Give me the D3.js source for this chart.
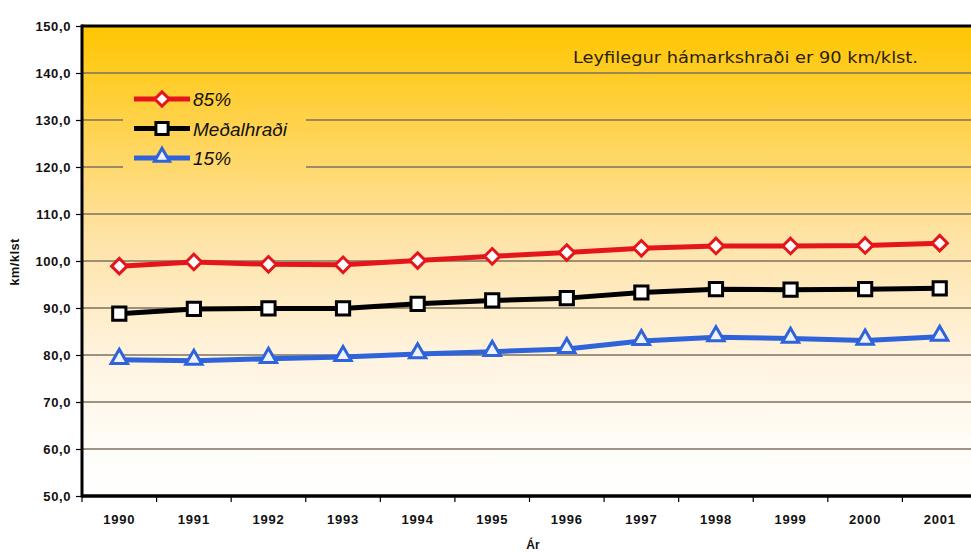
<!DOCTYPE html>
<html><head><meta charset="utf-8">
<script src="https://cdn.jsdelivr.net/npm/d3@7"></script>
<style>body{margin:0;background:#fff}svg{display:block}</style>
</head><body>
<svg id="c" width="971" height="553"></svg>
<script>
const years = ["1990","1991","1992","1993","1994","1995","1996","1997","1998","1999","2000","2001"];
const p85 = [98.9, 99.8, 99.3, 99.2, 100.1, 101.0, 101.8, 102.7, 103.2, 103.2, 103.3, 103.8];
const mean = [88.8, 89.8, 89.9, 89.9, 90.9, 91.6, 92.1, 93.3, 94.0, 93.9, 94.0, 94.2];
const p15 = [79.0, 78.8, 79.2, 79.6, 80.2, 80.7, 81.3, 83.0, 83.8, 83.5, 83.1, 83.9];
const yTicks = [50,60,70,80,90,100,110,120,130,140,150];
const seriesNames = ["85%", "Meðalhraði", "15%"];
const note = "Leyfilegur hámarkshraði er 90 km/klst.";
const yTitle = "km/klst";
const xTitle = "Ár";

const svg = d3.select("#c");
const L = 82, T = 26, R = 977, B = 496;
const x = d3.scaleBand().domain(years).range([L, R]);
const y = d3.scaleLinear().domain([50,150]).range([B, T]);
const FONT = "Liberation Sans, Arial, sans-serif";

const defs = svg.append("defs");
function grad(id){
  const g = defs.append("linearGradient").attr("id",id).attr("gradientUnits","userSpaceOnUse")
    .attr("x1",0).attr("y1",T).attr("x2",0).attr("y2",B);
  [[0,"#FFC600"],[0.22,"#FFD350"],[0.45,"#FEE3A6"],[0.7,"#FFF3DE"],[0.88,"#FFFCF6"],[1,"#FFFFFF"]]
    .forEach(([o,c])=>g.append("stop").attr("offset",o).attr("stop-color",c));
}
grad("bg"); grad("bgl");

svg.append("rect").attr("x",L).attr("y",T).attr("width",R-L).attr("height",B-T).attr("fill","url(#bg)");

// gridlines
svg.append("g").selectAll("line").data(yTicks.filter(d=>d>50 && d<150)).join("line")
  .attr("x1",L).attr("x2",R).attr("y1",d=>y(d)).attr("y2",d=>y(d))
  .attr("stroke","#7d7160").attr("stroke-width",1.3);

// legend box (hides gridlines)
const lg = svg.append("g");
lg.append("rect").attr("x",123).attr("y",83).attr("width",183).attr("height",93).attr("fill","url(#bgl)");

// axes
const yAxis = d3.axisLeft(y).tickValues(yTicks).tickSize(6).tickFormat(d=>d3.format(".1f")(d).replace(".",","));
const ya = svg.append("g").attr("transform",`translate(${L},0)`).call(yAxis);
ya.select(".domain").remove();
ya.selectAll("line").attr("stroke","#000").attr("stroke-width",1.2);
ya.selectAll("text").attr("font-family",FONT).attr("font-weight","bold")
  .attr("font-size",13).attr("letter-spacing",0.6).attr("fill","#111").attr("x",-11).attr("dy","0.35em");

const xAxis = d3.axisBottom(x).tickSize(0).tickPadding(19);
const xa = svg.append("g").attr("transform",`translate(0,${B})`).call(xAxis);
xa.select(".domain").remove();
xa.selectAll("text").attr("font-family",FONT).attr("font-weight","bold")
  .attr("font-size",13).attr("letter-spacing",0.8).attr("fill","#111");
svg.append("g").selectAll("line").data(years).join("line")
  .attr("x1",d=>x(d)).attr("x2",d=>x(d)).attr("y1",B).attr("y2",B+6)
  .attr("stroke","#000").attr("stroke-width",1.2);

// frame
svg.append("line").attr("x1",L).attr("x2",R).attr("y1",T).attr("y2",T).attr("stroke","#000").attr("stroke-width",3);
svg.append("line").attr("x1",L).attr("x2",R).attr("y1",B).attr("y2",B).attr("stroke","#000").attr("stroke-width",3.5);
svg.append("line").attr("x1",L).attr("x2",L).attr("y1",T-1.5).attr("y2",B+1.5).attr("stroke","#000").attr("stroke-width",3);

// titles
svg.append("text").attr("transform",`translate(19,262) rotate(-90)`).attr("text-anchor","middle")
  .attr("font-family",FONT).attr("font-weight","bold").attr("font-size",13).attr("letter-spacing",0.4).attr("fill","#111").text(yTitle);
svg.append("text").attr("x",533).attr("y",549).attr("text-anchor","middle")
  .attr("font-family",FONT).attr("font-weight","bold").attr("font-size",12).attr("fill","#111").text(xTitle);
svg.append("text").attr("x",573).attr("y",63)
  .attr("font-family","DejaVu Sans, Verdana, sans-serif").attr("font-size",16).attr("fill","#2a1f10")
  .attr("textLength",345).attr("lengthAdjust","spacingAndGlyphs").text(note);

// series
const diamond = {draw(ctx, size){ const h = Math.sqrt(size/2); ctx.moveTo(0,-h); ctx.lineTo(h,0); ctx.lineTo(0,h); ctx.lineTo(-h,0); ctx.closePath(); }};
const cfg = [
  {name:seriesNames[0], data:p85, color:"#E5151C", fill:"#fff", shape:diamond, size:120, dy:0},
  {name:seriesNames[1], data:mean, color:"#000000", fill:"#fff", shape:d3.symbolSquare, size:175, dy:0},
  {name:seriesNames[2], data:p15, color:"#2E63DA", fill:"#EEF3FF", shape:d3.symbolTriangle, size:115, dy:-1}
];
const cx = d => x(d) + x.bandwidth()/2;
const line = d3.line().x(d=>cx(d[0])).y(d=>y(d[1]));
cfg.forEach(s=>{
  const pts = years.map((yr,i)=>[yr, s.data[i]]);
  svg.append("path").attr("d",line(pts)).attr("fill","none").attr("stroke",s.color).attr("stroke-width",5).attr("stroke-linejoin","round");
  svg.append("g").selectAll("path").data(pts).join("path")
    .attr("d",d3.symbol().type(s.shape).size(s.size))
    .attr("transform",d=>`translate(${cx(d[0])},${y(d[1]) + s.dy})`)
    .attr("fill",s.fill).attr("stroke",s.color).attr("stroke-width",3);
});

// legend entries
cfg.forEach((s,i)=>{
  const ly = 99 + i*29.5;
  lg.append("line").attr("x1",134).attr("x2",190).attr("y1",ly).attr("y2",ly).attr("stroke",s.color).attr("stroke-width",5);
  lg.append("path").attr("d",d3.symbol().type(s.shape).size(s.size*0.85)).attr("transform",`translate(162,${ly + s.dy})`)
    .attr("fill",s.fill).attr("stroke",s.color).attr("stroke-width",3);
  lg.append("text").attr("x",193).attr("y",ly+7).attr("font-family",FONT)
    .attr("font-style","italic").attr("font-size",19).attr("fill","#111").text(s.name);
});
</script>
</body></html>
